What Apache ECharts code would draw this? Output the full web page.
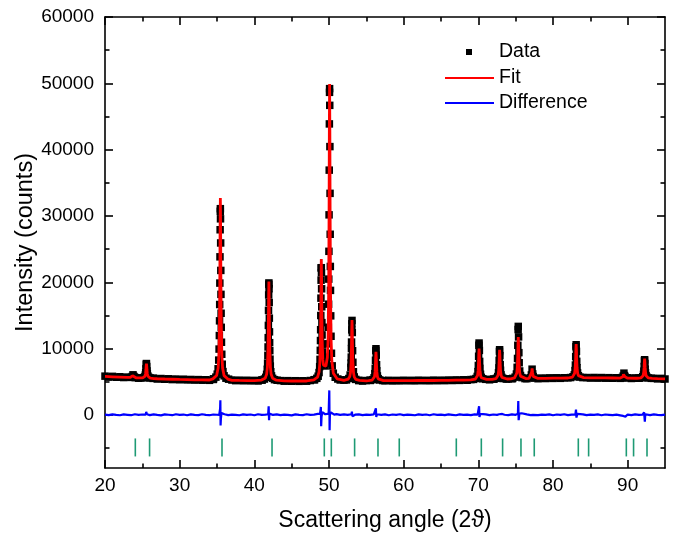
<!DOCTYPE html>
<html>
<head>
<meta charset="utf-8">
<script src="https://cdn.jsdelivr.net/npm/echarts@6/dist/echarts.min.js"></script>
<style>
html,body{margin:0;padding:0;background:#fff;}
#chart{width:673px;height:534px;}
</style>
</head>
<body>
<div id="chart"></div>
<script>
// ---- axis ticks ----
const xTicks = [20, 30, 40, 50, 60, 70, 80, 90];
const xMinorTicks = [25, 35, 45, 55, 65, 75, 85];
const yTicks = [0, 10000, 20000, 30000, 40000, 50000, 60000];
const yMinorTicks = [-5000, 5000, 15000, 25000, 35000, 45000, 55000];

// ---- observed intensities [2theta, counts] : background ----
const observedBackground = [
 [20.0,5850],[20.5,5700],[21.0,5820],[21.5,5680],[22.0,5760],[22.5,5640],[23.0,5700],
 [24.5,5540],[26.5,5530],[27.0,5420],[27.5,5490],[28.0,5380],[28.5,5450],[29.0,5330],
 [29.5,5410],[30.0,5300],[30.5,5390],[31.0,5280],[31.5,5350],[32.0,5260],[32.5,5330],
 [33.0,5240],[33.5,5310],[34.0,5220],[34.5,5350],[37.0,5260],[37.5,5170],[38.0,5240],
 [38.5,5150],[39.0,5230],[39.5,5140],[40.0,5210],[40.5,5120],[41.0,5260],[43.5,5180],
 [44.0,5090],[44.5,5170],[45.0,5080],[45.5,5160],[46.0,5070],[46.5,5150],[47.0,5090],
 [47.5,5190],[48.0,5300],[51.5,5270],[52.0,5250],[54.0,5200],[54.5,5110],[55.0,5190],
 [55.5,5230],[57.5,5150],[58.0,5220],[58.5,5130],[59.0,5210],[59.5,5140],[60.0,5230],
 [60.5,5150],[61.0,5220],[61.5,5140],[62.0,5240],[62.5,5160],[63.0,5220],[63.5,5150],
 [64.0,5250],[64.5,5160],[65.0,5240],[65.5,5170],[66.0,5260],[66.5,5190],[67.0,5280],
 [67.5,5210],[68.0,5300],[68.5,5230],[69.0,5330],[71.5,5300],[72.0,5410],[74.0,5440],
 [74.5,5450],[76.5,5470],[78.0,5460],[78.5,5560],[79.0,5490],[79.5,5590],[80.0,5510],
 [80.5,5600],[81.0,5520],[81.5,5610],[82.0,5600],[84.5,5640],[85.0,5560],[85.5,5650],
 [86.0,5550],[86.5,5640],[87.0,5540],[87.5,5620],[88.0,5530],[88.5,5610],[89.0,5520],
 [90.0,5600],[90.5,5500],[91.0,5580],[91.5,5540],[93.5,5520],[94.0,5440],[94.5,5510],
 [95.0,5420]
];

// ---- observed intensities : reflections ----
const observedPeaks = [
 [23.50,5660],[23.65,5790],[23.75,6050],[23.83,5835],[23.90,5715],[24.05,5630],
 [24.80,5580],[25.13,5600],[25.30,5730],[25.40,6010],[25.45,6390],[25.49,6950],[25.53,7620],
 [25.55,7750],[25.59,7300],[25.63,6640],[25.67,6210],[25.74,5860],[25.85,5670],[26.05,5560],[26.45,5510],
 [34.55,5450],[34.85,5700],[35.03,6150],[35.15,6960],[35.23,8270],[35.28,9930],[35.315,11970],
 [35.34,14190],[35.36,16650],[35.38,19880],[35.40,23840],[35.42,27920],[35.44,30710],[35.45,31100],
 [35.47,29570],[35.49,25930],[35.51,21790],[35.53,18180],[35.55,15330],[35.57,13210],[35.60,10960],
 [35.64,9150],[35.70,7650],[35.80,6540],[35.95,5900],[36.20,5540],[36.55,5390],
 [41.05,5270],[41.35,5410],[41.53,5670],[41.65,6120],[41.73,6880],[41.78,7820],[41.815,8990],
 [41.84,10250],[41.86,11650],[41.88,13500],[41.90,15760],[41.92,18090],[41.94,19680],[41.95,19900],
 [41.97,19030],[41.99,16950],[42.01,14590],[42.03,12530],[42.05,10900],[42.07,9690],[42.10,8410],
 [42.14,7380],[42.20,6520],[42.30,5890],[42.45,5520],[42.70,5320],[43.05,5230],
 [48.07,5320],[48.37,5520],[48.55,5840],[48.67,6390],[48.75,7280],[48.80,8380],[48.835,9740],
 [48.86,11220],[48.88,12850],[48.90,14990],[48.92,17610],[48.94,20320],[48.96,22160],[48.97,22200],
 [48.99,21430],[49.01,19020],[49.03,16310],[49.05,13920],[49.07,12060],[49.09,10670],[49.12,9500],
 [49.16,8530],[49.22,7790],[49.32,7450],[49.47,7400],[49.66,7790],[49.78,8700],[49.86,10720],
 [49.91,13220],[49.945,16700],[49.97,20480],[49.99,24670],[50.01,30170],[50.03,36910],[50.05,43880],
 [50.07,48640],[50.08,49200],[50.10,46680],[50.12,40460],[50.14,33410],[50.16,27240],[50.18,22390],
 [50.20,18780],[50.23,14940],[50.27,11860],[50.33,9300],[50.43,7400],[50.58,6290],[50.83,5680],[51.18,5420],
 [52.33,5280],[52.66,5490],[52.83,6020],[52.93,7180],[52.955,7810],[52.98,8720],[53.005,10010],
 [53.02,10990],[53.045,12820],[53.06,13740],[53.08,14250],[53.12,12430],[53.16,9690],[53.20,7940],
 [53.27,6510],[53.38,5730],[53.58,5360],[53.98,5200],
 [55.54,5200],[55.87,5320],[56.04,5600],[56.14,6220],[56.19,7030],[56.23,8240],[56.27,9700],
 [56.29,9980],[56.33,9010],[56.37,7570],[56.41,6640],[56.48,5880],[56.59,5470],[56.79,5270],[57.19,5190],
 [69.35,5360],[69.68,5490],[69.85,5810],[69.95,6530],[70.00,7460],[70.04,8850],[70.08,10510],
 [70.10,10840],[70.14,9730],[70.18,8070],[70.22,7010],[70.29,6140],[70.40,5670],[70.60,5450],[71.00,5370],
 [72.10,5400],[72.43,5520],[72.60,5785],[72.70,6355],[72.75,7110],[72.79,8230],[72.83,9570],
 [72.85,9830],[72.89,8940],[72.93,7600],[72.97,6740],[73.04,6040],[73.15,5660],[73.35,5490],[73.75,5410],
 [74.60,5510],[74.93,5700],[75.10,6170],[75.20,7180],[75.25,8520],[75.29,10500],[75.33,12880],
 [75.35,13350],[75.39,11770],[75.43,9390],[75.47,7870],[75.54,6630],[75.65,5950],[75.85,5630],[76.25,5480],
 [76.95,5600],[77.10,6030],[77.20,6900],[77.28,6190],[77.35,5790],[77.50,5560],
 [82.35,5636],[82.68,5755],[82.85,6045],[82.95,6685],[83.00,7530],[83.04,8780],[83.08,10285],
 [83.10,10580],[83.14,9580],[83.18,8080],[83.22,7120],[83.29,6335],[83.40,5910],[83.60,5705],[84.00,5630],
 [89.25,5630],[89.40,5850],[89.50,6300],[89.58,5930],[89.65,5720],[89.80,5600],
 [91.52,5530],[91.85,5600],[92.02,5760],[92.12,6120],[92.17,6600],[92.21,7300],[92.25,8150],
 [92.27,8320],[92.31,7760],[92.35,6910],[92.39,6370],[92.46,5930],[92.57,5690],[92.77,5570],[93.17,5520]
];

// ---- calculated (fit) profile ----
const fittedBackground = [
 [20,5800],[21,5750],[22,5700],[23,5650],[27,5460],[28,5420],[29,5385],[30,5350],[31,5325],
 [32,5300],[33,5285],[34,5265],[37,5225],[38,5200],[39,5185],[40,5175],[43,5140],[44,5130],
 [45,5120],[46,5120],[47,5120],[52,5210],[55,5150],[58,5170],[59,5175],[60,5180],[61,5185],
 [62,5190],[63,5190],[64,5195],[65,5200],[66,5220],[67,5240],[68,5260],[69,5280],[74,5395],
 [78,5500],[79,5525],[80,5550],[81,5560],[82,5570],[85,5600],[86,5590],[87,5580],[88,5570],
 [89,5560],[90,5550],[91,5530],[94,5480],[95,5450]
];
const fittedPeaks = [
 [23.35,5650],[23.60,5720],[23.69,5900],[23.75,6050],[23.81,5890],[23.90,5710],[24.15,5610],
 [24.55,5590],[25.05,5600],[25.25,5680],[25.35,5830],[25.43,6210],[25.48,6780],[25.515,7390],[25.55,7750],
 [25.585,7390],[25.62,6780],[25.67,6210],[25.75,5830],[25.85,5670],[26.05,5560],[26.55,5490],
 [34.45,5440],[34.95,5950],[35.15,7070],[35.25,9040],[35.33,13700],[35.38,20790],[35.415,28310],[35.45,32700],
 [35.485,28310],[35.52,20790],[35.57,13700],[35.65,9040],[35.75,7060],[35.95,5930],[36.45,5410],
 [40.95,5260],[41.45,5530],[41.65,6140],[41.75,7210],[41.83,9760],[41.88,13610],[41.915,17710],[41.95,20100],
 [41.985,17710],[42.02,13610],[42.07,9760],[42.15,7210],[42.25,6130],[42.45,5520],[42.95,5240],
 [47.97,5300],[48.47,5690],[48.67,6480],[48.77,7820],[48.85,10970],[48.90,15730],[48.935,20780],[48.97,23500],
 [49.005,20800],[49.04,15790],[49.09,11070],[49.17,8300],[49.27,7500],[49.47,7450],[49.58,7350],[49.78,8650],
 [49.88,11640],[49.96,19030],[50.01,30580],[50.045,42840],[50.08,49900],[50.115,42830],[50.15,30555],
 [50.20,19000],[50.28,11375],[50.38,8140],[50.58,6295],[51.08,5450],
 [52.08,5270],[52.58,5410],[52.78,5775],[52.88,6400],[52.96,7950],[53.01,10320],[53.045,12830],[53.08,14300],
 [53.115,12830],[53.15,10320],[53.20,7950],[53.28,6400],[53.38,5740],[53.58,5370],[54.08,5200],
 [55.29,5180],[55.79,5260],[55.99,5440],[56.09,5750],[56.17,6490],[56.22,7610],[56.255,8800],[56.29,9500],
 [56.325,8800],[56.36,7610],[56.41,6490],[56.49,5750],[56.59,5440],[56.79,5260],[57.29,5180],
 [69.10,5310],[69.60,5410],[69.80,5600],[69.90,5950],[69.98,6750],[70.03,7960],[70.065,9250],[70.10,10000],
 [70.135,9250],[70.17,7960],[70.22,6750],[70.30,5950],[70.40,5610],[70.60,5430],[71.10,5360],
 [71.85,5370],[72.35,5470],[72.55,5650],[72.65,5980],[72.73,6730],[72.78,7880],[72.815,9090],[72.85,9800],
 [72.885,9090],[72.92,7880],[72.97,6730],[73.05,5980],[73.15,5660],[73.35,5490],[73.85,5420],
 [74.35,5440],[74.85,5580],[75.05,5845],[75.15,6300],[75.23,7375],[75.28,9005],[75.315,10740],[75.35,11750],
 [75.385,10740],[75.42,9010],[75.47,7380],[75.55,6310],[75.65,5850],[75.85,5600],[76.35,5490],
 [76.80,5520],[77.05,5810],[77.14,6450],[77.20,7000],[77.26,6450],[77.35,5810],[77.60,5540],
 [82.10,5605],[82.60,5705],[82.80,5915],[82.90,6285],[82.98,7155],[83.03,8475],[83.065,9880],[83.10,10700],
 [83.135,9880],[83.17,8480],[83.22,7160],[83.30,6290],[83.40,5920],[83.60,5715],[84.10,5625],
 [89.10,5590],[89.35,5745],[89.44,6100],[89.50,6400],[89.56,6100],[89.65,5745],[89.90,5585],
 [91.27,5530],[91.77,5590],[91.97,5700],[92.07,5915],[92.15,6425],[92.20,7200],[92.235,8020],[92.27,8500],
 [92.305,8020],[92.34,7200],[92.39,6425],[92.47,5910],[92.57,5695],[92.77,5580],[93.27,5510]
];

// ---- difference curve (obs - calc) ----
const difference = [
 [20.0,60],[20.5,-30],[21.0,90],[21.5,10],[22.0,-50],[22.5,80],[23.0,20],[23.5,-40],[24.0,100],[24.5,0],
 [25.0,70],[25.45,50],[25.52,450],[25.56,600],[25.62,100],[26.0,-20],[26.5,90],[27.0,10],[27.5,-60],[28.0,80],
 [28.5,30],[29.0,-40],[29.5,110],[30.0,0],[30.5,60],[31.0,-50],[31.5,90],[32.0,20],[32.5,-30],[33.0,100],
 [33.5,10],[34.0,-40],[34.5,70],[35.0,30],[35.3,0],[35.38,-300],[35.42,1000],[35.45,2200],[35.48,-1600],
 [35.52,-600],[35.6,300],[35.75,20],[36.0,100],[36.5,-30],[37.0,60],[37.5,20],[38.0,-50],[38.5,90],[39.0,0],
 [39.5,70],[40.0,-40],[40.5,100],[41.0,10],[41.5,50],[41.85,100],[41.92,1300],[41.97,-800],[42.02,200],
 [42.15,300],[42.5,0],[43.0,80],[43.5,-30],[44.0,60],[44.5,10],[45.0,-60],[45.5,90],[46.0,20],[46.5,-20],
 [47.0,100],[47.5,0],[48.0,60],[48.5,150],[48.8,200],[48.87,800],[48.91,1200],[48.95,-1700],[49.0,-300],
 [49.1,400],[49.3,200],[49.5,100],[49.7,300],[49.95,200],[50.04,3700],[50.08,-2300],[50.12,0],[50.25,400],
 [50.4,200],[50.7,50],[51.0,120],[51.5,0],[52.0,80],[52.5,20],[53.0,100],[53.07,500],[53.13,-200],[53.3,100],
 [53.5,40],[54.0,90],[54.5,-30],[55.0,60],[55.5,10],[56.0,80],[56.22,200],[56.28,1000],[56.33,-300],
 [56.42,100],[56.6,150],[57.0,20],[57.5,90],[58.0,-40],[58.5,70],[59.0,10],[59.5,100],[60.0,-30],[60.5,60],
 [61.0,20],[61.5,-50],[62.0,90],[62.5,0],[63.0,70],[63.5,-40],[64.0,100],[64.5,10],[65.0,60],[65.5,-30],
 [66.0,80],[66.5,20],[67.0,-50],[67.5,90],[68.0,0],[68.5,60],[69.0,-20],[69.5,80],[69.9,50],[70.05,200],
 [70.1,1300],[70.15,-300],[70.25,150],[70.5,20],[71.0,90],[71.5,-20],[72.0,70],[72.5,10],[72.8,100],
 [72.85,400],[72.9,-100],[73.2,150],[73.5,30],[74.0,-30],[74.5,80],[75.0,20],[75.3,200],[75.35,2100],
 [75.4,-800],[75.5,200],[75.8,250],[76.0,40],[76.5,90],[77.0,-20],[77.15,50],[77.22,250],[77.3,0],[77.5,80],
 [78.0,-30],[78.5,60],[79.0,10],[79.5,90],[80.0,-40],[80.5,70],[81.0,0],[81.5,100],[82.0,-20],[82.5,60],
 [83.0,100],[83.08,800],[83.14,-400],[83.25,150],[83.5,20],[84.0,90],[84.5,-30],[85.0,60],[85.5,10],
 [86.0,80],[86.5,-40],[87.0,70],[87.5,20],[88.0,-30],[88.5,50],[89.0,-60],[89.4,-150],[89.7,-250],
 [89.9,-100],[90.0,60],[90.5,-20],[91.0,80],[91.5,0],[92.0,60],[92.2,400],[92.3,-1000],[92.36,100],
 [92.5,50],[93.0,-20],[93.5,80],[94.0,10],[94.5,-40],[95.0,60]
];

// ---- Bragg reflection positions ----
const braggPositions = [24.06, 25.97, 35.67, 42.37, 49.37, 50.31, 53.43, 56.56, 59.41, 67.05,
  70.40, 73.25, 75.71, 77.49, 83.39, 84.77, 89.82, 90.79, 92.59];
const braggLevel = -4900;

const FONT = 'Liberation Sans, Arial, sans-serif';
const observed = observedBackground.concat(observedPeaks);
const fitted = fittedBackground.concat(fittedPeaks).sort((a, b) => a[0] - b[0]);
const bragg = braggPositions.map(x => [x, braggLevel]);

const X_MIN = 20, X_MAX = 95, Y_MIN = -8000, Y_MAX = 60000;
const lineCol = '#000';

function xAxisDef(pos, ticks, len, showLine, showLabel, withName) {
  const a = {
    type: 'value', position: pos, min: X_MIN, max: X_MAX, gridIndex: 0,
    axisLine: { show: showLine, onZero: false, lineStyle: { color: lineCol, width: 1.6 } },
    axisTick: { show: true, inside: true, length: len, customValues: ticks, lineStyle: { color: lineCol, width: 1.6 } },
    axisLabel: { show: showLabel, customValues: ticks, fontSize: 19, color: '#000', fontFamily: FONT, margin: 8,
      formatter: v => String(v) },
    splitLine: { show: false }, minorTick: { show: false }
  };
  if (withName) {
    a.name = 'Scattering angle (2\u03D1)';
    a.nameLocation = 'middle';
    a.nameGap = 41;
    a.nameTextStyle = { fontSize: 23, color: '#000', fontFamily: FONT };
  }
  return a;
}
function yAxisDef(pos, ticks, len, showLine, showLabel, withName) {
  const a = {
    type: 'value', position: pos, min: Y_MIN, max: Y_MAX, gridIndex: 0,
    axisLine: { show: showLine, onZero: false, lineStyle: { color: lineCol, width: 1.6 } },
    axisTick: { show: true, inside: true, length: len, customValues: ticks, lineStyle: { color: lineCol, width: 1.6 } },
    axisLabel: { show: showLabel, customValues: ticks, fontSize: 19, color: '#000', fontFamily: FONT, margin: 11,
      formatter: v => String(v) },
    splitLine: { show: false }, minorTick: { show: false }
  };
  if (withName) {
    a.name = 'Intensity (counts)';
    a.nameLocation = 'middle';
    a.nameGap = 67;
    a.nameMoveOverlap = false;
    a.nameTextStyle = { fontSize: 23.5, color: '#000', fontFamily: FONT };
  }
  return a;
}

const chart = echarts.init(document.getElementById('chart'), null, { renderer: 'canvas' });
chart.setOption({
  animation: false,
  backgroundColor: '#fff',
  grid: { left: 105, right: 8, top: 17, bottom: 66, containLabel: false, outerBoundsMode: 'none' },
  xAxis: [
    xAxisDef('bottom', xTicks, 8, true, true, true),
    xAxisDef('bottom', xMinorTicks, 4.5, false, false, false),
    xAxisDef('top', xTicks, 8, true, false, false),
    xAxisDef('top', xMinorTicks, 4.5, false, false, false)
  ],
  yAxis: [
    yAxisDef('left', yTicks, 8, true, true, true),
    yAxisDef('left', yMinorTicks, 4.5, false, false, false),
    yAxisDef('right', yTicks, 8, true, false, false),
    yAxisDef('right', yMinorTicks, 4.5, false, false, false)
  ],
  legend: [
    { data: [{ name: 'Data', icon: 'rect' }], orient: 'vertical', left: 461, top: 37, itemWidth: 6, itemHeight: 6,
      textStyle: { fontSize: 19.5, color: '#000', fontFamily: FONT, padding: [0, 0, 0, 22] }, selectedMode: false },
    { data: [{ name: 'Fit', icon: 'rect' }], orient: 'vertical', left: 440, top: 63, itemWidth: 49, itemHeight: 2,
      textStyle: { fontSize: 19.5, color: '#000', fontFamily: FONT }, selectedMode: false },
    { data: [{ name: 'Difference', icon: 'rect' }], orient: 'vertical', left: 440, top: 88, itemWidth: 49, itemHeight: 2,
      textStyle: { fontSize: 19.5, color: '#000', fontFamily: FONT }, selectedMode: false }
  ],
  series: [
    { name: 'Data', type: 'scatter', xAxisIndex: 0, yAxisIndex: 0, data: observed,
      symbol: 'rect', symbolSize: 7.5, itemStyle: { color: '#000', opacity: 1 }, silent: true, z: 2 },
    { name: 'Fit', type: 'line', xAxisIndex: 0, yAxisIndex: 0, data: fitted, symbol: 'none',
      lineStyle: { color: '#ff0000', width: 2.8 }, itemStyle: { color: '#ff0000' }, silent: true, z: 3 },
    { name: 'Difference', type: 'line', xAxisIndex: 0, yAxisIndex: 0, data: difference, symbol: 'none',
      lineStyle: { color: '#0000ff', width: 2.2 }, itemStyle: { color: '#0000ff' }, silent: true, z: 3 },
    { name: 'Bragg', type: 'scatter', xAxisIndex: 0, yAxisIndex: 0, data: bragg,
      symbol: 'rect', symbolSize: [1.6, 18], itemStyle: { color: '#1e9a74', opacity: 1 }, silent: true, z: 3 }
  ]
});
</script>
</body>
</html>
